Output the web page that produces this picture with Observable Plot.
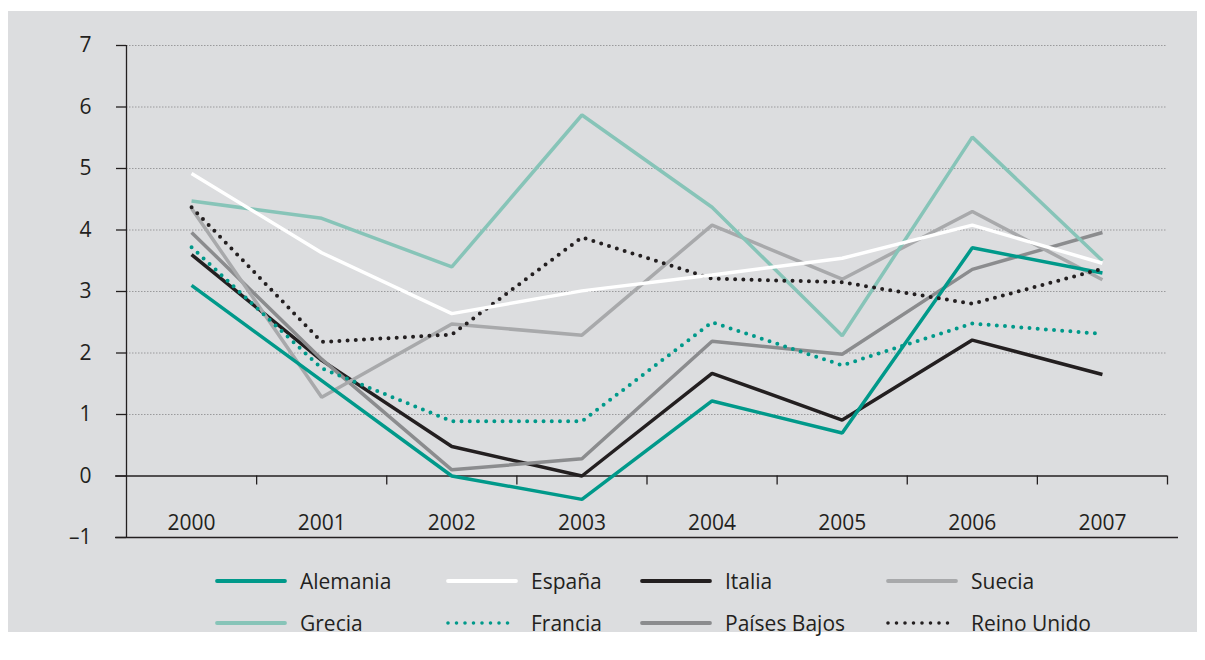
<!DOCTYPE html>
<html>
<head>
<meta charset="utf-8">
<script src="https://cdn.jsdelivr.net/npm/d3@7"></script>
<script src="https://cdn.jsdelivr.net/npm/@observablehq/plot@0.6"></script>
<style>
  html, body { margin: 0; padding: 0; background: #ffffff; }
  body { width: 1205px; height: 660px; position: relative; font-family: "Open Sans", "Noto Sans", sans-serif; }
  #panel { position: absolute; left: 8px; top: 11px; width: 1189px; height: 621px; background: #dcdddf; }
  #chart { position: absolute; left: 0; top: 0; }
  #legend { position: absolute; left: 207px; top: 549px; display: grid;
            grid-template-columns: 231px 194px 246px auto; grid-auto-rows: 42px;
            font-size: 21px; color: #231f20; }
  .item { display: flex; align-items: center; white-space: nowrap; }
  .item svg { margin-right: 13px; flex: none; }
</style>
</head>
<body>
<div id="panel">
  <div id="chart"></div>
  <div id="legend"></div>
</div>
<script>
// ---- data ----
const years = [2000, 2001, 2002, 2003, 2004, 2005, 2006, 2007];
const alemania    = [3.10, 1.55, 0.00, -0.38, 1.22, 0.70, 3.71, 3.30];
const espana      = [4.92, 3.63, 2.64, 3.01, 3.27, 3.54, 4.08, 3.46];
const italia      = [3.60, 1.88, 0.48, 0.00, 1.67, 0.91, 2.21, 1.65];
const suecia      = [4.35, 1.28, 2.47, 2.29, 4.08, 3.20, 4.30, 3.19];
const grecia      = [4.47, 4.19, 3.40, 5.87, 4.37, 2.28, 5.51, 3.50];
const francia     = [3.72, 1.75, 0.89, 0.89, 2.50, 1.80, 2.48, 2.31];
const paisesBajos = [3.96, 1.90, 0.10, 0.28, 2.19, 1.98, 3.36, 3.96];
const reinoUnido  = [4.37, 2.18, 2.30, 3.88, 3.21, 3.15, 2.80, 3.37];
const yTicks = [-1, 0, 1, 2, 3, 4, 5, 6, 7];
const gridValues = [1, 2, 3, 4, 5, 6, 7];

// ---- styles ----
const TEAL = "#00998a", GRECIA = "#87c4b8", BLACK = "#231f20",
      LIGHTGRAY = "#a8a9ab", MIDGRAY = "#8b8c8e", WHITE = "#ffffff";
const series = [
  {name: "Alemania", values: alemania, color: TEAL, dotted: false, order: 4},
  {name: "España", values: espana, color: WHITE, dotted: false, order: 7},
  {name: "Italia", values: italia, color: BLACK, dotted: false, order: 0},
  {name: "Suecia", values: suecia, color: LIGHTGRAY, dotted: false, order: 2},
  {name: "Grecia", values: grecia, color: GRECIA, dotted: false, order: 3},
  {name: "Francia", values: francia, color: TEAL, dotted: true, order: 5},
  {name: "Países Bajos", values: paisesBajos, color: MIDGRAY, dotted: false, order: 1},
  {name: "Reino Unido", values: reinoUnido, color: BLACK, dotted: true, order: 6}
];

const W = 1189, H = 540, mTop = 34, mBottom = 14, mLeft = 118, mRight = 30;
const pxPerUnit = (H - mTop - mBottom) / (yTicks[yTicks.length - 1] - yTicks[0]);
const halfYears = years.map(y => y + 0.5);

const lineMarks = [...series].sort((a, b) => a.order - b.order).map(s =>
  Plot.line(years.map((y, i) => ({year: y, value: s.values[i]})), {
    x: "year", y: "value", stroke: s.color,
    strokeWidth: s.dotted ? 4 : 3.5,
    strokeDasharray: s.dotted ? "0 8.2" : null,
    strokeLinecap: s.dotted ? "round" : "butt",
    strokeLinejoin: "miter"
  })
);

const chart = Plot.plot({
  width: W, height: H,
  marginTop: mTop, marginBottom: mBottom, marginLeft: mLeft, marginRight: mRight,
  style: {background: "transparent", fontFamily: "'Open Sans', 'Noto Sans', sans-serif", color: BLACK},
  x: {type: "linear", domain: [years[0] - 0.5, years[years.length - 1] + 0.5], axis: null},
  y: {domain: [yTicks[0], yTicks[yTicks.length - 1]], axis: null},
  marks: [
    Plot.ruleY(gridValues, {stroke: "#9a9a9c", strokeWidth: 1, strokeDasharray: "1.5 1.5"}),
    Plot.axisY({ticks: yTicks, tickSize: 10, tickPadding: 25, fontSize: 21, stroke: BLACK, strokeWidth: 1.3,
                tickFormat: d => d < 0 ? "\u2013" + Math.abs(d) : String(d), label: null}),
    Plot.ruleX([years[0] - 0.5], {stroke: BLACK, strokeWidth: 1.3}),
    Plot.ruleY([0], {stroke: BLACK, strokeWidth: 1.3, insetLeft: -11}),
    Plot.ruleY([yTicks[0]], {stroke: BLACK, strokeWidth: 1.3, insetLeft: -11, insetRight: -11}),
    Plot.ruleX(halfYears, {y1: 0, y2: -9 / pxPerUnit, stroke: BLACK, strokeWidth: 1.3}),
    Plot.text(years, {x: d => d, frameAnchor: "bottom", dy: -14, lineAnchor: "middle",
                      fontSize: 21, fill: BLACK, text: d => String(d)}),
    ...lineMarks
  ]
});
document.getElementById("chart").appendChild(chart);

// ---- legend ----
const legend = document.getElementById("legend");
for (const s of series) {
  const item = document.createElement("div");
  item.className = "item";
  const ns = "http://www.w3.org/2000/svg";
  const svg = document.createElementNS(ns, "svg");
  svg.setAttribute("width", 72); svg.setAttribute("height", 10);
  const ln = document.createElementNS(ns, "line");
  ln.setAttribute("x1", 2); ln.setAttribute("x2", 70);
  ln.setAttribute("y1", 5); ln.setAttribute("y2", 5);
  ln.setAttribute("stroke", s.color);
  ln.setAttribute("stroke-linecap", "round");
  if (s.dotted) { ln.setAttribute("stroke-width", 3.6); ln.setAttribute("stroke-dasharray", "0 8.5"); }
  else ln.setAttribute("stroke-width", 3.8);
  svg.appendChild(ln);
  item.appendChild(svg);
  const t = document.createElement("span");
  t.textContent = s.name;
  item.appendChild(t);
  legend.appendChild(item);
}
</script>
</body>
</html>
